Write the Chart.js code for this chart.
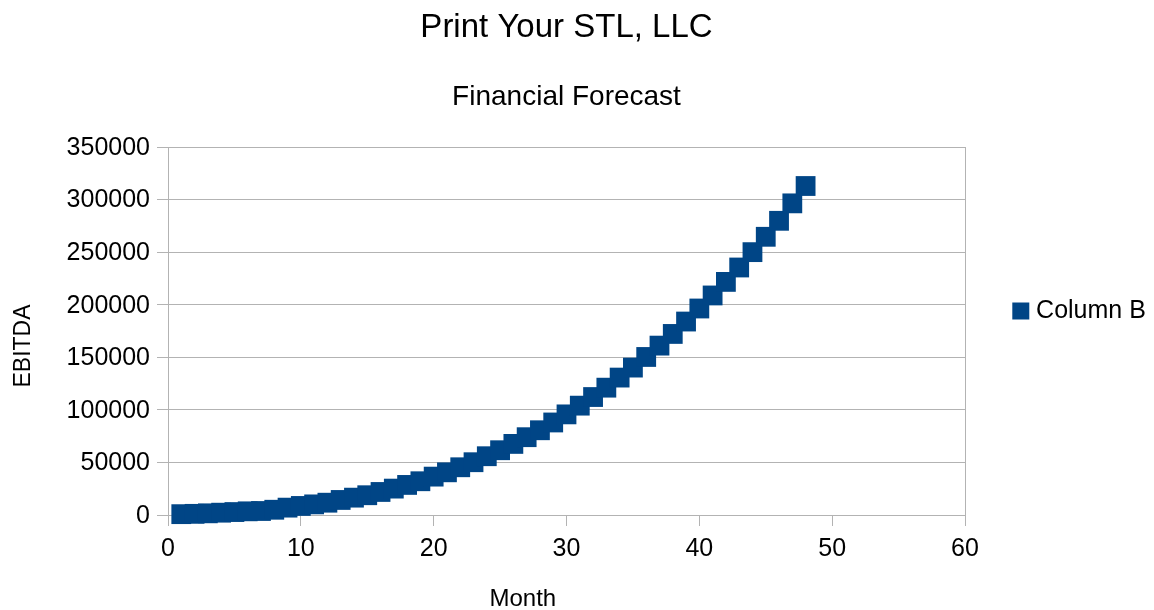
<!DOCTYPE html>
<html>
<head>
<meta charset="utf-8">
<script src="https://cdn.jsdelivr.net/npm/chart.js@4.4.1/dist/chart.umd.min.js"></script>
<style>
html,body{margin:0;padding:0;background:#ffffff;}
#wrap{width:1154px;height:610px;}
</style>
</head>
<body>
<div id="wrap"><canvas id="c" width="1154" height="610"></canvas></div>
<script>
// ---- data ----
const months = [1,2,3,4,5,6,7,8,9,10,11,12,13,14,15,16,17,18,19,20,21,22,23,24,
                25,26,27,28,29,30,31,32,33,34,35,36,37,38,39,40,41,42,43,44,45,46,47,48];
const ebitda = [800,1100,1600,2200,2800,3500,3800,5000,7000,8600,10100,11700,
                14300,16500,18800,21900,25100,28600,32100,36500,40600,45400,50200,55900,
                61600,67600,74000,80600,88000,95700,104000,112200,121100,130700,140200,150300,
                161100,172200,184000,196400,208800,221700,235400,250000,264600,279800,296400,312900];
const xTicks = [0,10,20,30,40,50,60];
const yTicks = [0,50000,100000,150000,200000,250000,300000,350000];
const chartTitle = 'Print Your STL, LLC';
const chartSubtitle = 'Financial Forecast';
const seriesName = 'Column B';
const xTitle = 'Month';
const yTitle = 'EBITDA';

const FONT = 'Liberation Sans';
const GRID = '#b3b3b3';
const SERIES = '#004586';

const axisTitles = {
  id: 'axisTitles',
  afterDraw(chart) {
    const ctx = chart.ctx;
    ctx.save();
    ctx.fillStyle = '#000000';
    ctx.textAlign = 'center';
    ctx.textBaseline = 'middle';
    ctx.font = '24px "' + FONT + '"';
    ctx.fillText(xTitle, 522.8, 599.5);
    ctx.translate(24, 346);
    ctx.rotate(-Math.PI / 2);
    ctx.font = '23px "' + FONT + '"';
    ctx.fillText(yTitle, 0, 0);
    ctx.restore();
  }
};

new Chart(document.getElementById('c'), {
  type: 'scatter',
  data: {
    datasets: [{
      label: seriesName,
      data: months.map((m, i) => ({x: m, y: ebitda[i]})),
      pointStyle: 'rect',
      pointRadius: 14,
      pointHoverRadius: 14,
      backgroundColor: SERIES,
      borderColor: SERIES,
      pointBorderWidth: 0,
      showLine: false,
      clip: false
    }]
  },
  options: {
    responsive: false,
    animation: false,
    devicePixelRatio: 1,
    layout: {padding: {top: 12, left: 0, right: 0, bottom: 0}},
    plugins: {
      tooltip: {enabled: false},
      title: {
        display: true, text: chartTitle, color: '#000000', fullSize: false,
        font: {family: FONT, size: 33, weight: 'normal', lineHeight: 0.8},
        padding: {top: 2.5, bottom: 0}
      },
      subtitle: {
        display: true, text: chartSubtitle, color: '#000000', fullSize: false,
        font: {family: FONT, size: 28, weight: 'normal', lineHeight: 0.8},
        padding: {top: 45.3, bottom: 38.4}
      },
      legend: {
        display: true, position: 'right', align: 'center', maxWidth: 189,
        labels: {
          usePointStyle: true, boxWidth: 5.6, boxHeight: 17, padding: 53,
          color: '#000000', font: {family: FONT, size: 25}
        }
      }
    },
    scales: {
      x: {
        type: 'linear', min: 0, max: 60,
        afterBuildTicks: s => { s.ticks = xTicks.map(v => ({value: v})); },
        afterFit: s => { s.height = 95; },
        grid: {
          color: c => (c.tick && c.tick.value === 60) ? GRID : 'rgba(0,0,0,0)',
          tickColor: GRID, tickLength: 11, lineWidth: 1
        },
        border: {color: GRID, width: 1},
        ticks: {color: '#000000', padding: 8.5, maxRotation: 0, font: {family: FONT, size: 25},
                callback: v => String(v)}
      },
      y: {
        type: 'linear', min: 0, max: 350000,
        afterBuildTicks: s => { s.ticks = yTicks.map(v => ({value: v})); },
        afterFit: s => { s.width = 168; },
        grid: {color: GRID, tickColor: GRID, tickLength: 11, lineWidth: 1},
        border: {color: GRID, width: 1},
        ticks: {color: '#000000', padding: 7, labelOffset: 1, font: {family: FONT, size: 25},
                callback: v => String(v)}
      }
    }
  },
  plugins: [axisTitles]
});
</script>
</body>
</html>
